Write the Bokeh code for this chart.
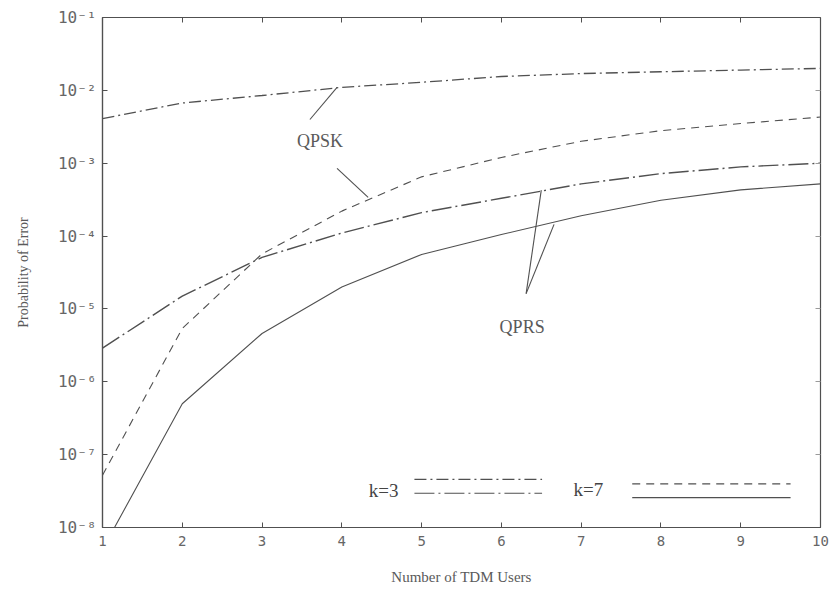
from bokeh.plotting import figure
from bokeh.models import (Range1d, FixedTicker, CustomJSTickFormatter, LinearAxis,
                          LogAxis, Label, Arrow)
from bokeh.embed import file_html
from bokeh.resources import INLINE

# ---------------- data ----------------
users = [1, 2, 3, 4, 5, 6, 7, 8, 9, 10]
qpsk_k3 = [4.1e-3, 6.7e-3, 8.5e-3, 1.1e-2, 1.29e-2, 1.55e-2, 1.7e-2, 1.8e-2, 1.9e-2, 2.0e-2]
qpsk_k7 = [5.2e-8, 5.4e-6, 5.7e-5, 2.2e-4, 6.5e-4, 1.2e-3, 2.0e-3, 2.8e-3, 3.5e-3, 4.3e-3]
qprs_k3 = [2.9e-6, 1.5e-5, 5.1e-5, 1.1e-4, 2.1e-4, 3.3e-4, 5.2e-4, 7.2e-4, 8.9e-4, 1.0e-3]
qprs_k7 = [5.0e-9, 5.0e-7, 4.6e-6, 2.0e-5, 5.6e-5, 1.05e-4, 1.9e-4, 3.1e-4, 4.3e-4, 5.2e-4]

x_ticks = [1, 2, 3, 4, 5, 6, 7, 8, 9, 10]
x_tick_labels = ["1", "2", "3", "4", "5", "6", "7", "8", "9", "10"]
y_ticks = [1e-8, 1e-7, 1e-6, 1e-5, 1e-4, 1e-3, 1e-2, 1e-1]
y_tick_labels = ["10\u207b\u2078", "10\u207b\u2077", "10\u207b\u2076", "10\u207b\u2075",
                 "10\u207b\u2074", "10\u207b\u00b3", "10\u207b\u00b2", "10\u207b\u00b9"]

x_title = "Number of TDM Users"
y_title = "Probability of Error"

# ---------------- styles ----------------
INK = "#505050"
TXT = "#5a5a5a"
SERIF = "Liberation Serif"
MONO = "DejaVu Sans Mono"
DASH_QPSK3 = "12 4 2 4"
DASH_QPRS3 = "20 4 2 4"
DASH_QPSK7 = "8 6"

p = figure(width=840, height=601, x_range=Range1d(1, 10), y_range=Range1d(1e-8, 1e-1),
           y_axis_type="log", output_backend="svg", toolbar_location=None,
           min_border_left=102, min_border_right=20, min_border_top=17, min_border_bottom=74)
p.background_fill_color = "white"
p.border_fill_color = "white"
p.outline_line_color = INK
p.outline_line_width = 1.2
p.xgrid.visible = False
p.ygrid.visible = False

# bottom axis
xa = p.xaxis[0]
xa.ticker = FixedTicker(ticks=x_ticks)
xa.major_label_overrides = dict(zip(x_ticks, x_tick_labels))
xa.axis_label = x_title

# left axis
ya = p.yaxis[0]
ya.ticker = FixedTicker(ticks=y_ticks)
ya.formatter = CustomJSTickFormatter(args=dict(yt=y_ticks, yl=y_tick_labels), code="""
let best = 0, d = Infinity;
for (let i = 0; i < yt.length; i++) {
  const e = Math.abs(Math.log10(yt[i]) - Math.log10(tick));
  if (e < d) { d = e; best = i; }
}
return yl[best];
""")
ya.axis_label = y_title

for ax in (xa, ya):
    ax.axis_line_color = INK
    ax.axis_line_width = 1.2
    ax.major_tick_in = 5
    ax.major_tick_out = 0
    ax.major_tick_line_color = INK
    ax.minor_tick_line_color = None
    ax.major_label_text_font = MONO
    ax.major_label_text_color = "#666666"
    ax.axis_label_text_font = SERIF
    ax.axis_label_text_font_style = "normal"
    ax.axis_label_text_color = TXT

xa.major_label_text_font_size = "14px"
xa.major_label_standoff = 8
xa.axis_label_standoff = 20
xa.axis_label_text_font_size = "15px"
ya.major_label_text_font_size = "16px"
ya.major_label_standoff = 6
ya.axis_label_standoff = 24
ya.axis_label_text_font_size = "14px"

# tick-only axes on top and right
blank = CustomJSTickFormatter(code="return '';")
top = LinearAxis(ticker=FixedTicker(ticks=x_ticks[1:-1]), formatter=blank)
right = LogAxis(ticker=FixedTicker(ticks=y_ticks[1:-1]), formatter=blank)
for ax in (top, right):
    ax.axis_line_color = None
    ax.major_tick_in = 5
    ax.major_tick_out = 0
    ax.major_tick_line_color = INK
    ax.minor_tick_line_color = None
    ax.major_label_text_font_size = "0px"
    ax.major_label_standoff = 0
right.major_tick_line_color = "#9a9a9a"
p.add_layout(top, "above")
p.add_layout(right, "right")

# ---------------- curves ----------------
p.line(users, qpsk_k3, line_color=INK, line_width=1.3, line_dash=DASH_QPSK3)
p.line(users, qpsk_k7, line_color=INK, line_width=1.1, line_dash=DASH_QPSK7)
p.line(users, qprs_k3, line_color=INK, line_width=1.4, line_dash=DASH_QPRS3)
p.line(users, qprs_k7, line_color=INK, line_width=1.1)

# ---------------- annotations ----------------
def ly(logv):
    return 10 ** logv

def seg(x0, y0, x1, y1, dash="solid", w=1.1):
    p.add_layout(Arrow(x_start=x0, y_start=ly(y0), x_end=x1, y_end=ly(y1), end=None,
                       line_color=INK, line_width=w, line_dash=dash))

def lab(x, y, text, size="18px", font=SERIF, color=TXT):
    p.add_layout(Label(x=x, y=ly(y), text=text, text_font=font, text_font_size=size,
                       text_color=color, text_align="center", text_baseline="middle"))

# QPSK pointers and label
seg(3.60, -2.40, 3.94, -1.96)
seg(3.94, -3.07, 4.33, -3.47)
lab(3.725, -2.69, "QPSK")

# QPRS pointers and label
seg(6.31, -4.79, 6.50, -3.37)
seg(6.31, -4.79, 6.66, -3.84)
lab(6.26, -5.25, "QPRS")

# legend
lab(4.525, -7.49, "k=3", size="19px", color="#444444")
seg(4.91, -7.34, 6.51, -7.34, dash=DASH_QPSK3, w=1.2)
seg(4.91, -7.53, 6.51, -7.53, dash=DASH_QPRS3, w=1.2)
lab(7.09, -7.48, "k=7", size="19px", color="#444444")
seg(7.64, -7.40, 9.625, -7.40, dash=DASH_QPSK7, w=1.2)
seg(7.64, -7.59, 9.625, -7.59, w=1.2)

open("out.html", "w").write(file_html(p, INLINE))
